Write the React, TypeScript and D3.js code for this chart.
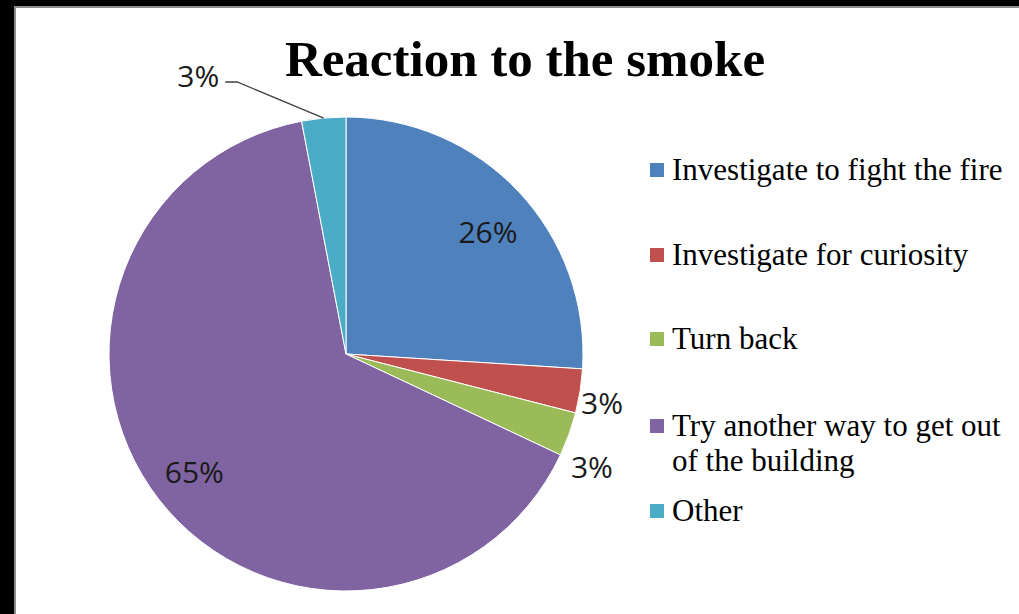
import React from "react";
import * as d3 from "d3";

const categories = [
  "Investigate to fight the fire",
  "Investigate for curiosity",
  "Turn back",
  "Try another way to get out of the building",
  "Other",
];
const values = [26, 3, 3, 65, 3];
const labels = ["26%", "3%", "3%", "65%", "3%"];
const legendLines = [
  ["Investigate to fight the fire"],
  ["Investigate for curiosity"],
  ["Turn back"],
  ["Try another way to get out", "of the building"],
  ["Other"],
];
const colors = ["#4F81BD", "#C0504D", "#9BBB59", "#8064A2", "#4BACC6"];

const W = 1019;
const H = 614;
const cx = 346;
const cy = 354;
const R = 237;

// label placement (radius factor, angle offset in degrees)
const labelRadius = [0.79, 1.1, 1.14, 0.81, 1.236];
const labelAngleOff = [2.5, 1.8, 4.7, 0, -16.4];

export default function App() {
  const pie = d3.pie<number>().value((d) => d).sort(null);
  const arcs = pie(values);
  const arcGen = d3.arc<d3.PieArcDatum<number>>().innerRadius(0).outerRadius(R);

  const legendBaselines = [180, 265, 349, 436, 521];
  const lineH = 35;

  return (
    <svg
      width={W}
      height={H}
      style={{ position: "fixed", left: 0, top: 0 }}
      xmlns="http://www.w3.org/2000/svg"
    >
      <rect x={0} y={0} width={W} height={H} fill="#000" />
      <rect x={14} y={6} width={W} height={H} fill="#8c8c8c" />
      <rect x={16} y={8} width={W} height={H} fill="#fff" />

      <text
        x={525}
        y={76}
        textAnchor="middle"
        fontFamily="'Liberation Serif', 'Times New Roman', serif"
        fontWeight="bold"
        fontSize={51}
        fill="#000"
      >
        Reaction to the smoke
      </text>

      <g transform={`translate(${cx},${cy})`}>
        {arcs.map((a, i) => (
          <path key={i} d={arcGen(a) || ""} fill={colors[i]} stroke="#fff" strokeWidth={1} />
        ))}
        {arcs.map((a, i) => {
          const mid = (a.startAngle + a.endAngle) / 2 + (labelAngleOff[i] * Math.PI) / 180;
          const r = R * labelRadius[i];
          const x = Math.sin(mid) * r;
          const y = -Math.cos(mid) * r;
          if (i === 4) {
            const m0 = (a.startAngle + a.endAngle) / 2;
            const ex = Math.sin(m0) * R;
            const ey = -Math.cos(m0) * R;
            return (
              <g key={"l" + i}>
                <polyline
                  points={`${ex},${ey} ${x},${y} ${x - 12},${y}`}
                  fill="none"
                  stroke="#404040"
                  strokeWidth={1.3}
                />
                <text
                  x={x - 18}
                  y={y - 7}
                  textAnchor="end"
                  dominantBaseline="central"
                  fontFamily="'Open Sans', sans-serif"
                  fontSize={30}
                  fill="#1a1a1a"
                >
                  {labels[i]}
                </text>
              </g>
            );
          }
          return (
            <text
              key={"l" + i}
              x={x}
              y={y}
              textAnchor="middle"
              dominantBaseline="central"
              fontFamily="'Open Sans', sans-serif"
              fontSize={30}
              fill="#1a1a1a"
            >
              {labels[i]}
            </text>
          );
        })}
      </g>

      <g>
        {categories.map((c, i) => (
          <g key={c}>
            <rect x={650} y={legendBaselines[i] - 17} width={14} height={14} fill={colors[i]} />
            <text
              x={672}
              y={legendBaselines[i]}
              fontFamily="'Liberation Serif', 'Times New Roman', serif"
              fontSize={31}
              fill="#000"
            >
              {legendLines[i].map((ln, j) => (
                <tspan key={j} x={672} y={legendBaselines[i] + j * lineH}>
                  {ln}
                </tspan>
              ))}
            </text>
          </g>
        ))}
      </g>
    </svg>
  );
}
